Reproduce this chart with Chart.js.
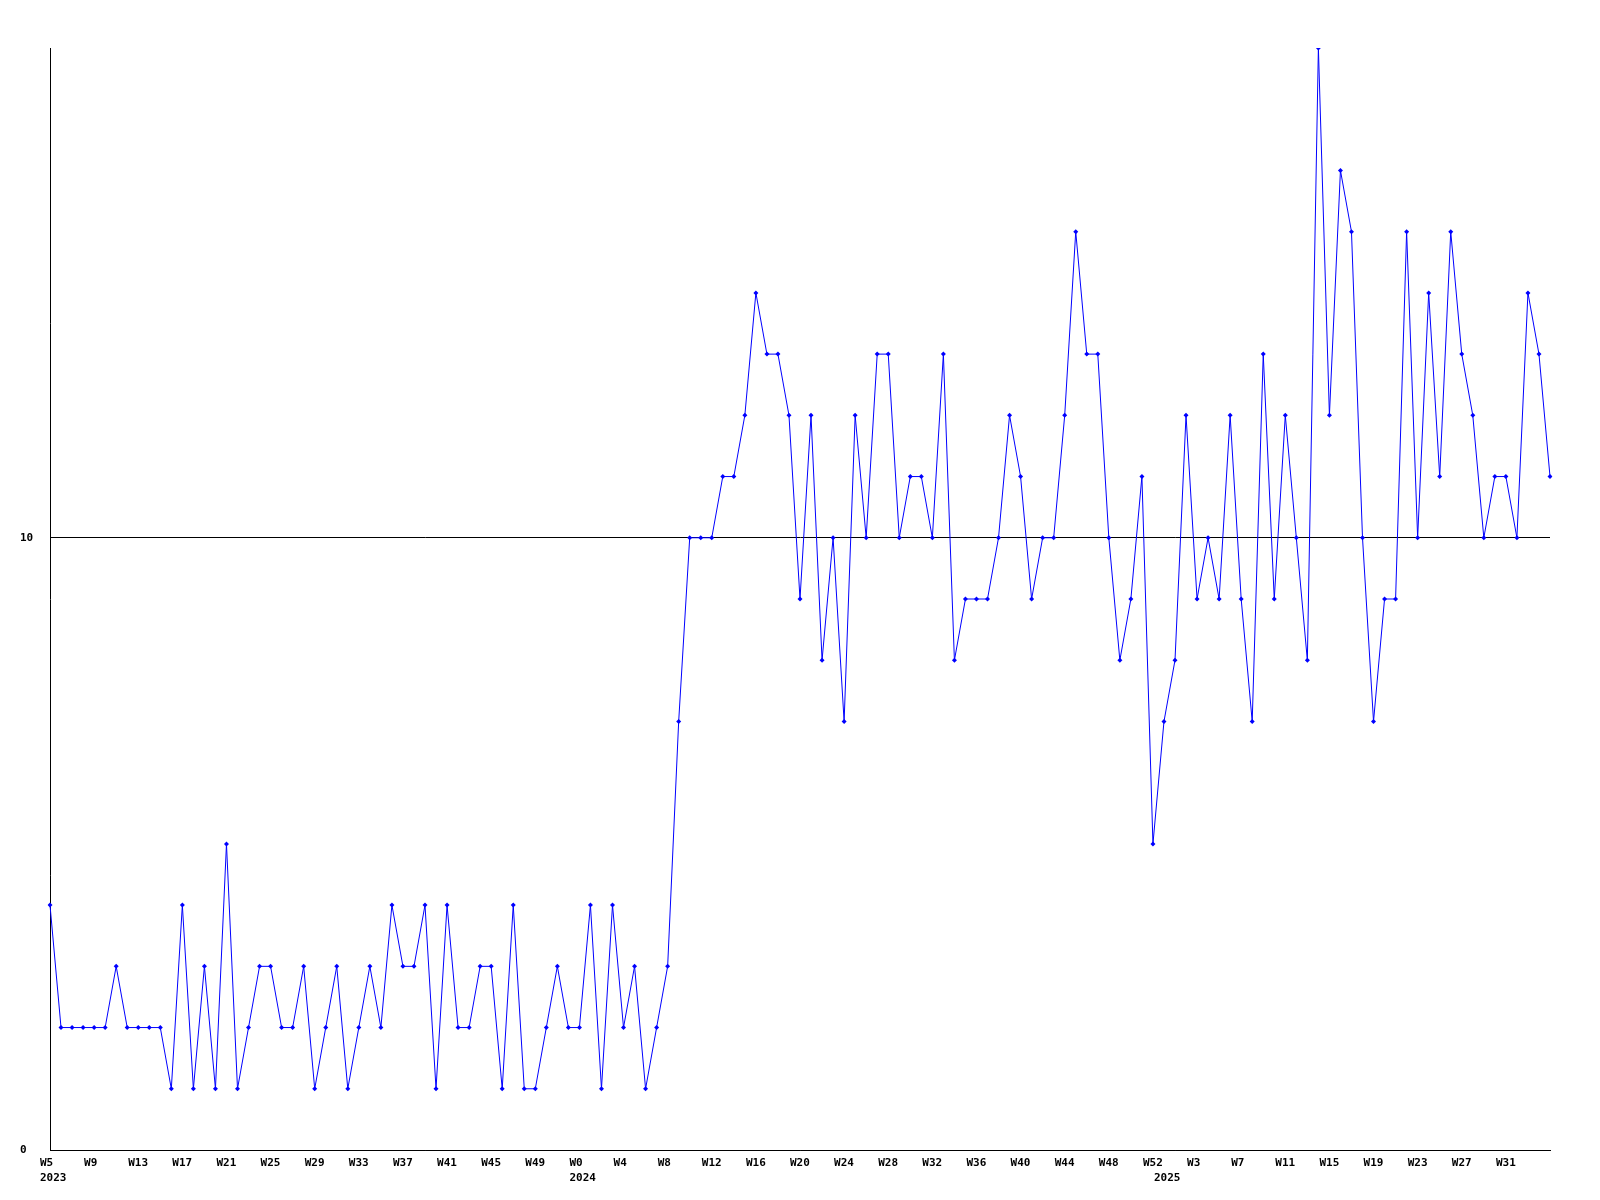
<!DOCTYPE html>
<html>
<head>
<meta charset="utf-8">
<title>Weekly count</title>
<script src="https://cdn.jsdelivr.net/npm/chart.js@4/dist/chart.umd.min.js"></script>
<style>
  html, body { margin: 0; padding: 0; background: #fff; }
  #wrap { width: 1600px; height: 1200px; position: relative; }
</style>
</head>
<body>
<div id="wrap"><canvas id="chart"></canvas></div>
<script>
// Years shown and the week range covered in each
const years = [2023, 2024, 2025];
const firstWeek = [5, 0, 0];
const lastWeek = [52, 52, 35];

// Weekly values, one array per year
const values2023 = [4, 2, 2, 2, 2, 2, 3, 2, 2, 2, 2, 1, 4, 1, 3, 1, 5, 1, 2, 3, 3, 2, 2, 3,
                    1, 2, 3, 1, 2, 3, 2, 4, 3, 3, 4, 1, 4, 2, 2, 3, 3, 1, 4, 1, 1, 2, 3, 2];
const values2024 = [2, 4, 1, 4, 2, 3, 1, 2, 3, 7, 10, 10, 10, 11, 11, 12, 14, 13, 13, 12,
                    9, 12, 8, 10, 7, 12, 10, 13, 13, 10, 11, 11, 10, 13, 8, 9, 9, 9, 10, 12,
                    11, 9, 10, 10, 12, 15, 13, 13, 10, 8, 9, 11, 5];
const values2025 = [7, 8, 12, 9, 10, 9, 12, 9, 7, 13, 9, 12, 10, 8, 18, 12, 16, 15, 10, 7,
                    9, 9, 15, 10, 14, 11, 15, 13, 12, 10, 11, 11, 10, 14, 13, 11];

// y axis: range and the only labelled ticks
const yMin = 0;
const yMax = 18;
const yTicks = [0, 10];
const labelEvery = 4;

// Build category labels (W5, W6 ...) and remember where each year begins
const weekLabels = [];
const yearAt = {};
years.forEach((y, k) => {
  yearAt[weekLabels.length] = String(y);
  for (let w = firstWeek[k]; w <= lastWeek[k]; w++) weekLabels.push('W' + w);
});
const counts = [...values2023, ...values2024, ...values2025];

const font = { family: '"DejaVu Sans Mono", "Liberation Mono", monospace', size: 11, weight: 'bold' };

new Chart(document.getElementById('chart'), {
  type: 'line',
  data: {
    labels: weekLabels,
    datasets: [{
      data: counts,
      borderColor: '#0000ff',
      backgroundColor: '#0000ff',
      borderWidth: 1,
      tension: 0,
      fill: false,
      pointStyle: 'rectRot',
      pointRadius: 2.5,
      pointBorderWidth: 0,
      pointHoverRadius: 2.5
    }]
  },
  options: {
    responsive: true,
    maintainAspectRatio: false,
    animation: false,
    layout: { padding: { left: 20, right: 50, top: 48, bottom: 0 } },
    plugins: {
      legend: { display: false },
      tooltip: { enabled: false }
    },
    scales: {
      x: {
        type: 'category',
        offset: false,
        grid: { display: false, drawTicks: false },
        border: { display: true, color: '#000', width: 1 },
        afterFit: (scale) => { scale.height = 50; },
        ticks: {
          autoSkip: false,
          maxRotation: 0,
          minRotation: 0,
          align: 'start',
          labelOffset: -10,
          padding: 6,
          color: '#000',
          font: { ...font, lineHeight: 1.36 },
          callback: function (value, index) {
            // the last week label would run past the plot, so it is left out
            const showWeek = index % labelEvery === 0 && index < weekLabels.length - 1;
            const week = showWeek ? this.getLabelForValue(value) : '';
            const year = yearAt[index];
            if (year) return [week, year];
            return week;
          }
        }
      },
      y: {
        min: yMin,
        max: yMax,
        afterBuildTicks: (scale) => { scale.ticks = yTicks.map(v => ({ value: v })); },
        afterFit: (scale) => { scale.width = 30; },
        grid: { color: '#000', lineWidth: 1, drawTicks: false },
        border: { display: true, color: '#000', width: 1 },
        ticks: {
          color: '#000',
          font: font,
          crossAlign: 'far',
          padding: 4
        }
      }
    }
  }
});
</script>
</body>
</html>
